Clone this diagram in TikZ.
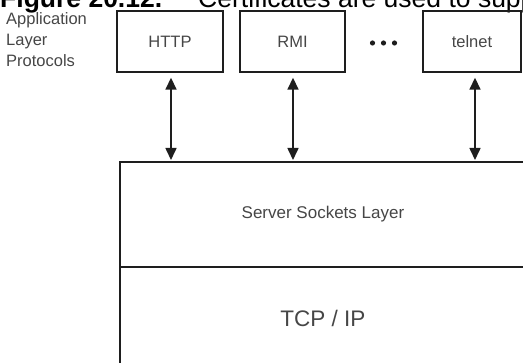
\documentclass[tikz,border=0pt]{standalone}
\usepackage{fontspec}
\setmainfont{Liberation Sans}
\usetikzlibrary{arrows.meta}
\definecolor{txt}{RGB}{70,70,70}
\definecolor{ln}{RGB}{30,30,30}
\begin{document}
\begin{tikzpicture}[x=1pt,y=-1pt,
  proto/.style={draw=ln,line width=1.9pt,minimum width=106pt,minimum height=61.5pt,
    inner sep=0pt,text=txt,font=\fontsize{16.5}{18}\selectfont},
  layer/.style={draw=ln,line width=1.9pt,inner sep=0pt,anchor=north west,
    minimum width=406pt,text=txt},
  link/.style={ln,line width=1.6pt,{Triangle[length=12pt,width=11pt]}-{Triangle[length=12pt,width=11pt]}},
  plain/.style={inner sep=0pt,anchor=base west},
  side/.style={plain,text=txt,font=\fontsize{16.5}{21}\selectfont},
]
\useasboundingbox (0,0) rectangle (523,363);
\clip (0,0) rectangle (523,363);
% title (cut at top and right)
\node[plain,font=\fontsize{26.5}{30}\selectfont\bfseries] (fig) at (0,7.5) {Figure 20.12.};
\node[plain,font=\fontsize{26.5}{30}\selectfont] (cap) at (198,7.5) {Certificates are used to supp};
% side label
\node[side] (lbl1) at (6,25) {Application};
\node[side] (lbl2) at (6,46) {Layer};
\node[side] (lbl3) at (6,67) {Protocols};
% protocol boxes
\node[proto] (http) at (170,41.5) {\raisebox{-2.5pt}{HTTP}};
\node[proto,minimum width=105pt] (rmi) at (292.5,41.5) {\raisebox{-2.5pt}{RMI}};
\node[proto,minimum width=98pt] (telnet) at (472,41.5) {\raisebox{-2.5pt}{telnet}};
% dots
\fill[ln] (372.5,43) circle (2.6pt) (383.5,43) circle (2.6pt) (394.5,43) circle (2.6pt);
% layers
\node[layer,minimum height=104.7pt,font=\fontsize{17}{20}\selectfont] (ssl) at (119,161) {Server Sockets Layer};
\node[layer,minimum height=104pt,font=\fontsize{22.5}{26}\selectfont] (tcp) at (119,265.7) {TCP / IP};
% arrows
\draw[link,shorten <=4.5pt,shorten >=1pt] ([xshift=1pt]http.south) -- ([xshift=1pt]http.south |- ssl.north);
\draw[link,shorten <=4.5pt,shorten >=1pt] ([xshift=0.5pt]rmi.south) -- ([xshift=0.5pt]rmi.south |- ssl.north);
\draw[link,shorten <=4.5pt,shorten >=1pt] ([xshift=3pt]telnet.south) -- ([xshift=3pt]telnet.south |- ssl.north);
\end{tikzpicture}
\end{document}
